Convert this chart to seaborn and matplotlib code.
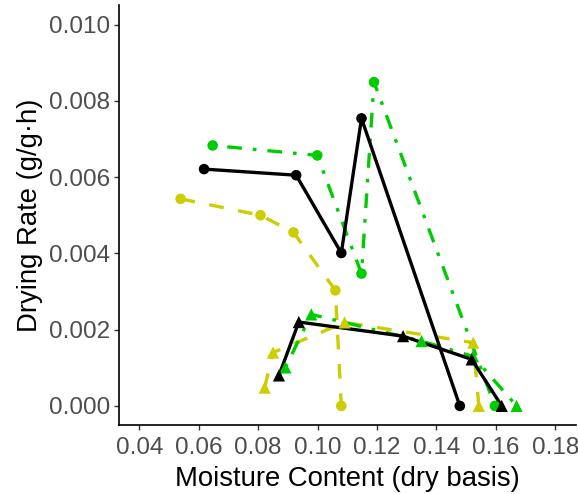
import matplotlib
matplotlib.use("Agg")
import matplotlib.pyplot as plt
import seaborn as sns
import pandas as pd

# Drying-rate curves: rate vs. moisture content for six runs
black_circle_x = [0.0618, 0.0928, 0.1080, 0.1148, 0.1479]
black_circle_y = [0.00621, 0.00605, 0.00401, 0.00754, 0.0]
green_circle_x = [0.0647, 0.0999, 0.1148, 0.1190, 0.1597]
green_circle_y = [0.00683, 0.00657, 0.00347, 0.00849, 0.0]
yellow_circle_x = [0.0539, 0.0808, 0.0919, 0.1060, 0.1080]
yellow_circle_y = [0.00543, 0.00500, 0.00455, 0.00303, 0.0]
black_tri_x = [0.0870, 0.0937, 0.1288, 0.1519, 0.1620]
black_tri_y = [0.00080, 0.00220, 0.00183, 0.00122, 0.0]
green_tri_x = [0.0892, 0.0979, 0.1350, 0.1523, 0.1670]
green_tri_y = [0.00101, 0.00240, 0.00170, 0.00130, 0.0]
yellow_tri_x = [0.0822, 0.0850, 0.1091, 0.1524, 0.1543]
yellow_tri_y = [0.00048, 0.00140, 0.00219, 0.00166, 0.0]

x_ticks = [0.04, 0.06, 0.08, 0.10, 0.12, 0.14, 0.16, 0.18]
y_ticks = [0.000, 0.002, 0.004, 0.006, 0.008, 0.010]

series = {
    "yellow_circle": (yellow_circle_x, yellow_circle_y),
    "yellow_tri": (yellow_tri_x, yellow_tri_y),
    "green_circle": (green_circle_x, green_circle_y),
    "green_tri": (green_tri_x, green_tri_y),
    "black_circle": (black_circle_x, black_circle_y),
    "black_tri": (black_tri_x, black_tri_y),
}
frames = []
for name, (xs, ys) in series.items():
    frames.append(pd.DataFrame({"moisture": xs, "rate": ys, "run": name}))
df = pd.concat(frames, ignore_index=True)
order = list(series.keys())

YELLOW = "#CDCD00"
GREEN = "#00CD00"
palette = {
    "yellow_circle": YELLOW, "yellow_tri": YELLOW,
    "green_circle": GREEN, "green_tri": GREEN,
    "black_circle": "black", "black_tri": "black",
}
dash_long = (4.4, 4.4)
dot_dash = (1.1, 3.3, 4.4, 3.3)
dashes = {
    "yellow_circle": dash_long, "yellow_tri": dash_long,
    "green_circle": dot_dash, "green_tri": dot_dash,
    "black_circle": "", "black_tri": "",
}

sns.set_theme(style="ticks")
plt.rcParams["font.family"] = ["Liberation Sans", "DejaVu Sans"]

fig = plt.figure(figsize=(5.78, 4.94), dpi=100)
ax = fig.add_axes([118.5 / 578, 69 / 494, (576 - 118.5) / 578, (488.5 - 69) / 494])

sns.lineplot(data=df, x="moisture", y="rate", hue="run", style="run",
             hue_order=order, style_order=order, palette=palette,
             dashes=dashes, estimator=None, sort=True, linewidth=2.4,
             legend=False, ax=ax)
circles = [o for o in order if o.endswith("circle")]
tris = [o for o in order if o.endswith("tri")]
sns.scatterplot(data=df[df["run"].isin(circles)], x="moisture", y="rate",
                hue="run", hue_order=circles, palette=palette, marker="o",
                s=7.6 ** 2, linewidth=0, legend=False, ax=ax, zorder=3)
sns.scatterplot(data=df[df["run"].isin(tris)], x="moisture", y="rate",
                hue="run", hue_order=tris, palette=palette, marker="^",
                s=8.8 ** 2, linewidth=0, legend=False, ax=ax, zorder=3)

ax.set_xlim(0.033, 0.187)
ax.set_ylim(-0.0005, 0.0105)
ax.set_xticks(x_ticks)
ax.set_xticklabels([f"{v:.2f}" for v in x_ticks])
ax.set_yticks(y_ticks)
ax.set_yticklabels([f"{v:.3f}" for v in y_ticks])

for side in ("top", "right"):
    ax.spines[side].set_visible(False)
for side in ("left", "bottom"):
    ax.spines[side].set_color("black")
    ax.spines[side].set_linewidth(1.2)
ax.tick_params(axis="both", length=3.5, width=1.0, color="#333333",
               labelcolor="#4D4D4D", labelsize=17.5, pad=2.5)
ax.tick_params(axis="x", pad=5.0)

ax.set_xlabel("Moisture Content (dry basis)", fontsize=19.8, color="black", labelpad=5)
ax.set_ylabel("Drying Rate (g/g\u00b7h)", fontsize=19.8, color="black", labelpad=4)

fig.savefig("out.png", dpi=100, facecolor="white")
